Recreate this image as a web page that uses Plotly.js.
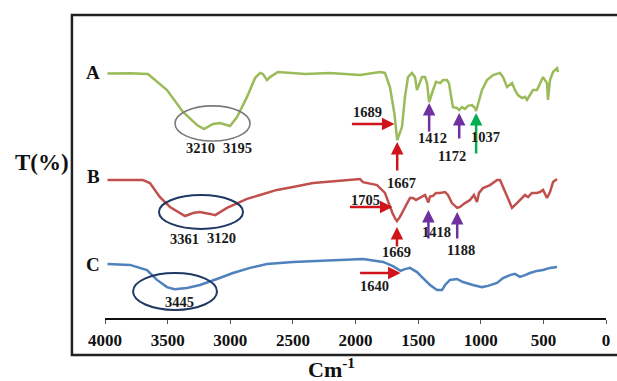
<!DOCTYPE html>
<html>
<head>
<meta charset="utf-8">
<script src="https://cdn.plot.ly/plotly-3.0.1.min.js"></script>
<style>
  html, body { margin: 0; padding: 0; background: #fff; }
  #chart { width: 617px; height: 381px; }
</style>
</head>
<body>
<div id="chart"></div>
<script>
// FTIR spectra of samples A, B and C (wavenumber in cm-1, transmittance offset per sample)
const waveA = [3980, 3800, 3657, 3505, 3377, 3265, 3210, 3138, 3082, 3002,
  2946, 2866, 2802, 2762, 2739, 2707, 2683, 2619, 2400, 2204,
  1964, 1804, 1765, 1725, 1689, 1667, 1629, 1605, 1581, 1549,
  1525, 1509, 1469, 1445, 1429, 1412, 1381, 1357, 1325, 1301,
  1270, 1254, 1222, 1190, 1172, 1150, 1126, 1102, 1070, 1046,
  1037, 1020, 990, 950, 902, 846, 822, 790, 750, 727,
  703, 671, 647, 631, 607, 583, 551, 527, 503, 471,
  463, 447, 423, 391, 383];
const transA = [81.5, 81.6, 81.3, 76, 68.7, 64.3, 63, 64.7, 65, 64,
  67, 73.7, 80, 81.7, 81.3, 79.3, 80.3, 82, 81.3, 81.7,
  81, 82, 81.7, 77, 68, 59.3, 63.7, 73.7, 80.3, 81.7,
  80.3, 76, 80.3, 80.3, 78.3, 72, 76, 78.7, 78.3, 79.3,
  79.3, 78.3, 70.3, 70, 69.3, 70.3, 69.7, 70.7, 71, 70,
  69, 71.5, 76, 79.3, 81, 81.7, 80.3, 77, 78.3, 76,
  74.3, 73.3, 73.7, 72.7, 74.3, 76, 76, 78.3, 80.3, 78.3,
  72.7, 79.3, 82, 83.3, 82];

const waveB = [3980, 3697, 3641, 3561, 3481, 3401, 3361, 3297, 3242, 3162,
  3120, 3026, 2946, 2866, 2762, 2627, 2499, 2339, 2148, 1964,
  1940, 1828, 1765, 1725, 1705, 1685, 1669, 1645, 1605, 1565,
  1541, 1517, 1501, 1469, 1445, 1418, 1405, 1381, 1357, 1325,
  1285, 1262, 1230, 1188, 1166, 1126, 1086, 1054, 1030, 1014,
  982, 926, 870, 846, 822, 790, 750, 711, 671, 647,
  623, 591, 551, 527, 503, 471, 447, 423, 391];
const transB = [46, 46, 45, 40.3, 37, 35, 34, 35, 35.3, 34.7,
  34.3, 36.7, 38.3, 39.7, 41, 42.7, 43.7, 45, 45.7, 46.3,
  45.3, 44.3, 41.7, 37, 35, 33.3, 32.3, 33.7, 37, 40,
  40, 39.3, 39.7, 40.3, 41, 38.5, 40.5, 40.7, 41.7, 41.7,
  42, 41, 38.3, 36.7, 37, 38.3, 39.3, 41, 38.7, 41.7,
  43.3, 44.3, 46, 46, 43.7, 40.3, 36.7, 38.3, 40, 41,
  40.3, 41.7, 41.7, 42, 42.7, 40, 42, 45.3, 46.3];

const waveC = [3980, 3800, 3665, 3585, 3505, 3445, 3345, 3242, 3106, 2978,
  2842, 2707, 2499, 2228, 1964, 1940, 1780, 1701, 1640, 1605,
  1565, 1509, 1461, 1405, 1349, 1309, 1285, 1246, 1190, 1142,
  1062, 990, 942, 870, 822, 767, 727, 687, 647, 607,
  551, 503, 447, 391];
const transC = [18, 17.7, 16, 12.7, 10.3, 9.6, 10, 11, 13, 15,
  16.7, 18, 18.7, 19.3, 19.7, 19.7, 18.7, 17.3, 15.7, 16.3,
  16.7, 15.3, 13.3, 11, 9.3, 9.3, 11, 12.7, 13, 12,
  11, 10.3, 10.7, 11.7, 13.3, 14.3, 14.7, 13.7, 14.3, 15,
  15.7, 16, 16.7, 17];

const sampleNames = ['A', 'B', 'C'];
const tickValues = [4000, 3500, 3000, 2500, 2000, 1500, 1000, 500, 0];

// Assigned band positions (cm-1)
const bandsA = [1689, 1667, 1412, 1172, 1037];
const bandsB = [1705, 1669, 1418, 1188];
const bandsC = [1640];
const broadA = [3210, 3195];
const broadB = [3361, 3120];
const broadC = [3445];

const serif = 'Liberation Serif, Times New Roman, serif';
const RED = '#D0141C', PURPLE = '#7030A0', GREEN = '#00B050', NAVY = '#1F3864';

const traces = [
  { x: waveA, y: transA, color: '#9BBB59' },
  { x: waveB, y: transB, color: '#C0504D' },
  { x: waveC, y: transC, color: '#4F81BD' }
].map((s, i) => ({
  type: 'scatter', mode: 'lines', name: sampleNames[i],
  x: s.x, y: s.y, line: { color: s.color, width: 2.5 },
  hoverinfo: 'x+name'
}));

function label(text, x, y, size) {
  return { text: String(text), x: x, y: y, xref: 'x', yref: 'y', showarrow: false,
    xanchor: 'center', yanchor: 'middle',
    font: { family: serif, size: size || 14.5, color: '#1a1a1a', weight: 'bold' } };
}
// arrow pointing at a band; tail offset in pixels
function arrow(x, y, ax, ay, color) {
  return { text: '', x: x, y: y, xref: 'x', yref: 'y', showarrow: true,
    ax: ax, ay: ay, arrowhead: 2, arrowsize: 1, arrowwidth: 2.5,
    arrowcolor: color, standoff: 0, startstandoff: 0 };
}

const annotations = [
  // sample labels
  ...sampleNames.map((n, i) => ({
    text: n, xref: 'paper', yref: 'y', x: -0.005, xanchor: 'right', yanchor: 'middle',
    y: [81.7, 47.3, 18][i], showarrow: false,
    font: { family: serif, size: 19, color: '#111', weight: 'bold' }
  })),
  // axis labels
  { text: 'T(%)', xref: 'paper', yref: 'paper', x: -0.126, y: 0.512,
    xanchor: 'center', yanchor: 'middle', showarrow: false,
    font: { family: serif, size: 23, color: '#111', weight: 'bold' } },
  { text: 'Cm<sup>-1</sup>', xref: 'paper', yref: 'paper', x: 0.452, y: -0.166,
    xanchor: 'center', yanchor: 'middle', showarrow: false,
    font: { family: serif, size: 22, color: '#111', weight: 'bold' } },

  // sample A
  arrow(bandsA[0], 64.7, -44, 0, RED), label(bandsA[0], 1908, 68.7),
  arrow(bandsA[1], 58.7, 0, 30, RED), label(bandsA[1], 1629, 45),
  arrow(bandsA[2], 71.7, 0, 30, PURPLE), label(bandsA[2], 1389, 60),
  arrow(bandsA[3], 68.3, 0, 27, PURPLE), label(bandsA[3], 1230, 54),
  arrow(bandsA[4], 68.3, 0, 42, GREEN), label(bandsA[4], 966, 60.5),
  label(broadA[0], 3234, 56.7), label(broadA[1], 2946, 56.7),

  // sample B
  arrow(bandsB[0], 37, -44, 0, RED), label(bandsB[0], 1920, 39.3),
  arrow(bandsB[1], 30.3, 0, 21, RED), label(bandsB[1], 1669, 22),
  arrow(bandsB[2], 36, 0, 30, PURPLE), label(bandsB[2], 1357, 28.7),
  arrow(bandsB[3], 35.3, 0, 28, PURPLE), label(bandsB[3], 1158, 22.7),
  label(broadB[0], 3369, 26.5), label(broadB[1], 3066, 26.7),

  // sample C
  arrow(bandsC[0], 15, -42, 0, RED), label(bandsC[0], 1852, 10.7),
  label(broadC[0], 3409, 5.3)
];

const shapes = [
  // outer frame (open to the right edge)
  { type: 'rect', xref: 'paper', yref: 'paper', x0: -0.066, x1: 1.12, y0: -0.122, y1: 1.0,
    line: { color: '#222', width: 2.5 }, fillcolor: 'rgba(0,0,0,0)' },
  // O-H / N-H stretching regions
  { type: 'circle', xref: 'x', yref: 'y', x0: 3441, x1: 2842, y0: 59, y1: 70.7,
    line: { color: '#7a7a7a', width: 1.6 } },
  { type: 'circle', xref: 'x', yref: 'y', x0: 3569, x1: 2898, y0: 29.7, y1: 41,
    line: { color: NAVY, width: 2 } },
  { type: 'circle', xref: 'x', yref: 'y', x0: 3776, x1: 3106, y0: 2.7, y1: 15,
    line: { color: NAVY, width: 2 } }
];

const layout = {
  width: 617, height: 381,
  margin: { l: 105, r: 11, t: 15, b: 63 },
  paper_bgcolor: '#fff', plot_bgcolor: '#fff',
  showlegend: false,
  xaxis: {
    range: [4000, 0], tickmode: 'array', tickvals: tickValues,
    ticktext: tickValues.map(String),
    showline: true, linecolor: '#111', linewidth: 2,
    ticks: 'outside', ticklen: 4, tickcolor: '#555', tickwidth: 1,
    ticklabelstandoff: 2,
    tickfont: { family: serif, size: 17, color: '#111', weight: 'bold' },
    showgrid: false, zeroline: false, automargin: false
  },
  yaxis: { range: [0, 101], visible: false, showgrid: false, zeroline: false },
  annotations: annotations,
  shapes: shapes
};

Plotly.newPlot('chart', traces, layout, { displayModeBar: false, staticPlot: true });
</script>
</body>
</html>
